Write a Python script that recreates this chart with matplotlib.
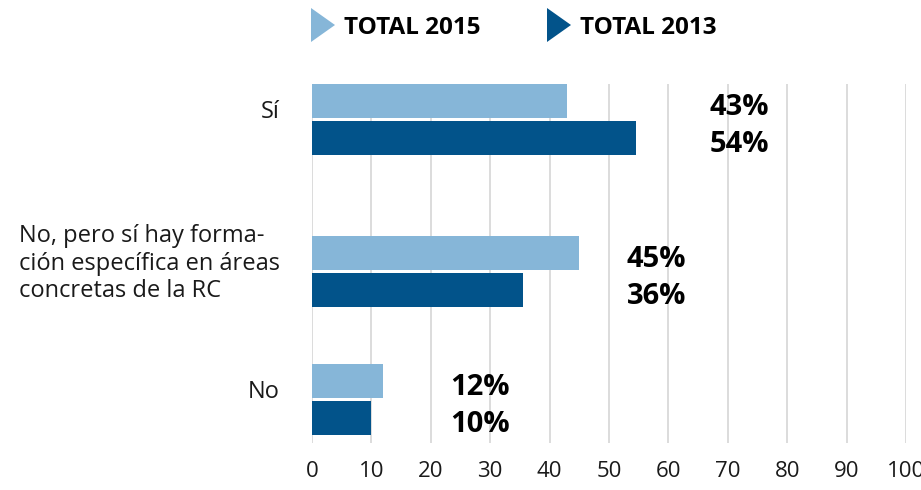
import matplotlib.pyplot as plt
from matplotlib.patches import Polygon
from matplotlib.transforms import blended_transform_factory

# data
categories = ["Sí", "No, pero sí hay forma-\nción específica en áreas\nconcretas de la RC", "No"]
total_2015 = [43, 45, 12]
total_2013 = [54.5, 35.5, 10]
labels_2015 = ["43%", "45%", "12%"]
labels_2013 = ["54%", "36%", "10%"]
label_x = [67.0, 53.0, 23.2]   # where the percentage labels start
series_names = ["TOTAL 2015", "TOTAL 2013"]

light = "#86B6D8"
dark = "#02538A"

plt.rcParams["font.family"] = ["Open Sans", "DejaVu Sans"]

W, H = 921, 490
fig = plt.figure(figsize=(W / 100, H / 100), dpi=100)

# axes placed in pixel terms (top=84, bottom=443)
ax = fig.add_axes([312 / W, 1 - 443 / H, 594 / W, 359 / H])
ax.set_xlim(0, 100)
ax.set_ylim(443, 84)

# category centres, in the same pixel-like units as the y limits
ypos = [119.5, 271.5, 399.5]
off = 18.5
bh = 34

for i, y in enumerate(ypos):
    ax.barh(y - off, total_2015[i], height=bh, color=light, zorder=3)
    ax.barh(y + off, total_2013[i], height=bh, color=dark, zorder=3)
    ax.text(label_x[i], y - off + 6, labels_2015[i], fontsize=21, fontweight="bold",
            va="center", ha="left", color="black")
    ax.text(label_x[i], y + off + 6, labels_2013[i], fontsize=21, fontweight="bold",
            va="center", ha="left", color="black")

trans = blended_transform_factory(ax.transAxes, ax.transData)
for y, cat in zip(ypos, categories):
    ax.text(-0.054, y - 8, cat, transform=trans, ha="right", va="center",
            multialignment="left", fontsize=17, color="#1a1a1a", linespacing=1.22)

ax.set_xticks(range(0, 101, 10))
ax.tick_params(axis="x", length=0, pad=13, labelsize=16, labelcolor="#1a1a1a")
ax.set_yticks([])
ax.grid(axis="x", color="#d9d9d9", linewidth=1.3, zorder=0)
for s in ax.spines.values():
    s.set_visible(False)

# legend drawn by hand: triangles + bold text
def px(x, y):
    return (x / W, 1 - y / H)

for x0, col, name in [(311, light, series_names[0]), (547, dark, series_names[1])]:
    tri = Polygon([px(x0, 8), px(x0 + 24, 25), px(x0, 42)], closed=True,
                  transform=fig.transFigure, facecolor=col, edgecolor="none")
    fig.add_artist(tri)
    fig.text((x0 + 33) / W, 1 - 28 / H, name, fontsize=17.5, fontweight="bold",
             va="center", ha="left", color="black")

fig.savefig("out.png", dpi=100)
